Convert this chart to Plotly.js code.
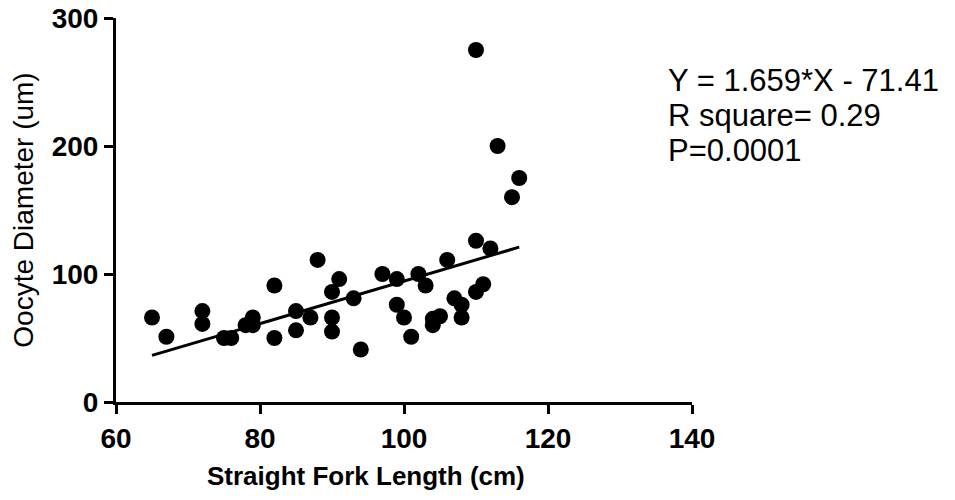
<!DOCTYPE html>
<html>
<head>
<meta charset="utf-8">
<script src="https://cdn.plot.ly/plotly-3.0.1.min.js"></script>
<style>
  html, body { margin: 0; padding: 0; background: #ffffff; }
  #chart { width: 955px; height: 500px; }
</style>
</head>
<body>
<div id="chart"></div>
<script>
// Scatter data: straight fork length (cm) vs oocyte diameter (um)
var forkLength = [65, 67, 72, 72, 75, 76, 78, 79, 79, 82, 82, 85, 85, 87, 88, 90, 90, 90, 91, 93, 94, 97, 99, 99, 100, 101, 102, 103, 104, 104, 105, 106, 107, 108, 108, 110, 110, 110, 111, 112, 113, 115, 116];
var oocyteDiameter = [66, 51, 71, 61, 50, 50, 60, 66, 60, 91, 50, 71, 56, 66, 111, 86, 66, 55, 96, 81, 41, 100, 96, 76, 66, 51, 100, 91, 65, 60, 67, 111, 81, 76, 66, 86, 126, 275, 92, 120, 200, 160, 175];

// Regression line end points (Y = 1.659*X - 71.41)
var fitX = [65, 116];
var fitY = [36.4, 121.0];

// Axis ticks
var xTicks = [60, 80, 100, 120, 140];
var yTicks = [0, 100, 200, 300];

// Text
var xTitle = "Straight Fork Length (cm)";
var yTitle = "Oocyte Diameter (um)";
var statLines = ["Y = 1.659*X - 71.41", "R square= 0.29", "P=0.0001"];

var FONT = "Liberation Sans, Arial, Helvetica, sans-serif";

var traces = [
  {
    x: forkLength, y: oocyteDiameter, type: "scatter", mode: "markers",
    marker: { color: "#000000", size: 16, line: { width: 0 } },
    cliponaxis: false, hoverinfo: "x+y", showlegend: false
  },
  {
    x: fitX, y: fitY, type: "scatter", mode: "lines",
    line: { color: "#000000", width: 3 },
    showlegend: false
  }
];

var statY = [0.8385, 0.745, 0.654];
var annotations = statLines.map(function (t, i) {
  return {
    text: t, xref: "paper", yref: "paper", x: 0.955, y: statY[i],
    xanchor: "left", yanchor: "middle", showarrow: false,
    font: { family: FONT, size: 31, color: "#000000" }
  };
});
annotations.push({
  text: "<b>" + xTitle + "</b>", xref: "paper", yref: "paper",
  x: 0.434, y: 0, xanchor: "center", yanchor: "middle", yshift: -74,
  showarrow: false, font: { family: FONT, size: 26, color: "#000000" }
});

var layout = {
  width: 955, height: 500,
  margin: { l: 116, r: 263, t: 18, b: 98, pad: 0 },
  paper_bgcolor: "#ffffff", plot_bgcolor: "#ffffff",
  font: { family: FONT, color: "#000000" },
  showlegend: false,
  xaxis: {
    range: [60, 140], tickvals: xTicks, ticktext: xTicks.map(String),
    showline: true, linecolor: "#000000", linewidth: 3,
    ticks: "outside", ticklen: 9, tickwidth: 3, tickcolor: "#000000",
    showgrid: false, zeroline: false,
    tickfont: { family: FONT, size: 28, color: "#000000", weight: "bold" }
  },
  yaxis: {
    range: [0, 300], tickvals: yTicks, ticktext: yTicks.map(String),
    showline: true, linecolor: "#000000", linewidth: 3,
    ticks: "outside", ticklen: 9, tickwidth: 3, tickcolor: "#000000",
    showgrid: false, zeroline: false,
    tickfont: { family: FONT, size: 28, color: "#000000", weight: "bold" },
    title: { text: yTitle, font: { family: FONT, size: 28, color: "#000000" }, standoff: 10 }
  },
  annotations: annotations
};

Plotly.newPlot("chart", traces, layout, { displayModeBar: false, staticPlot: true });
</script>
</body>
</html>
